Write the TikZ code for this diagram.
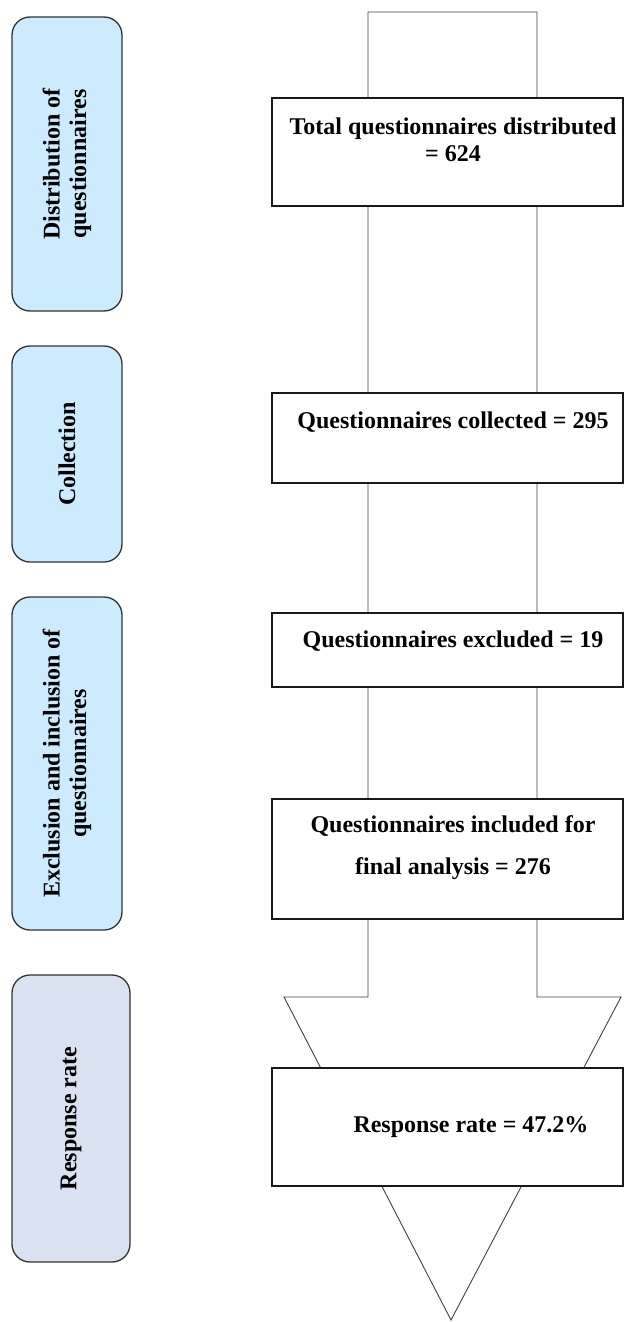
\documentclass[tikz,border=0pt]{standalone}
\usepackage{fontspec}
\setmainfont{Liberation Serif}
\definecolor{stageblue}{RGB}{204,235,255}
\definecolor{stagelav}{RGB}{218,226,242}
\begin{document}
\begin{tikzpicture}[x=1pt,y=-1pt,
  stage/.style={draw=black!80, line width=1.3pt, rounded corners=18pt, fill=stageblue, inner sep=0pt, outer sep=0pt},
  databox/.style={draw=black!90, line width=1.8pt, fill=white, inner sep=0pt, outer sep=0pt, minimum width=351pt},
  txt/.style={font=\bfseries\fontsize{24}{26.5}\selectfont, inner sep=0pt, align=center},
  flow/.style={draw=black!75, line width=0.9pt, fill=white}]
\useasboundingbox (0,0) rectangle (624,1322);
% stage labels
\node[stage, minimum width=110pt, minimum height=294pt] (s1) at (67,164) {};
\node[txt, rotate=90] at (s1.center) {Distribution of\\questionnaires};
\node[stage, minimum width=110pt, minimum height=216pt] (s2) at (67,454) {};
\node[txt, rotate=90] at (s2.center) {Collection};
\node[stage, minimum width=110pt, minimum height=333pt] (s3) at (67,763.5) {};
\node[txt, rotate=90] at (s3.center) {Exclusion and inclusion of\\questionnaires};
\node[stage, fill=stagelav, minimum width=118pt, minimum height=287pt] (s4) at (71,1118.5) {};
\node[txt, rotate=90] at (s4.center) {Response rate};
% block arrow
\coordinate (tl) at (368,12);
\coordinate (tr) at (537,12);
\coordinate (apex) at (451,1320);
\draw[flow] (tl) -- (tr) -- (537,997) -- (621,997) -- (apex) -- (284,997) -- (368,997) -- cycle;
% data boxes
\node[databox, minimum height=108pt] (b1) at (447.5,152) {};
\node[txt] at (453,140) {Total questionnaires distributed\\= 624};
\node[databox, minimum height=90pt] (b2) at (447.5,438) {};
\node[txt] at (453,422) {Questionnaires collected = 295};
\node[databox, minimum height=74pt] (b3) at (447.5,650) {};
\node[txt] at (453,641) {Questionnaires excluded = 19};
\node[databox, minimum height=120pt] (b4) at (447.5,859) {};
\node[txt, font=\bfseries\fontsize{24}{42}\selectfont] at (453,848) {Questionnaires included for\\final analysis = 276};
\node[databox, minimum height=118pt] (b5) at (447.5,1127) {};
\node[txt] at (471,1127) {Response rate = 47.2\%};
\end{tikzpicture}
\end{document}
